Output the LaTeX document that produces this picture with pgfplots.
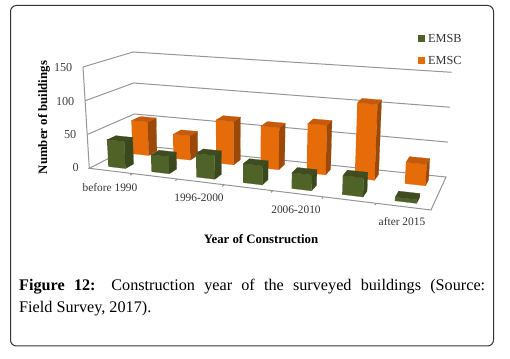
\documentclass[border=0pt]{standalone}
\usepackage{pgfplots}
\pgfplotsset{compat=1.18}
\usepackage{fontspec}
\setmainfont{Liberation Serif}
\definecolor{sbF}{RGB}{79,98,40}
\definecolor{sbS}{RGB}{58,72,29}
\definecolor{sbT}{RGB}{62,76,32}
\definecolor{scF}{RGB}{230,108,10}
\definecolor{scS}{RGB}{155,72,8}
\definecolor{scT}{RGB}{196,90,10}
\definecolor{gridc}{RGB}{150,150,150}
\newcommand\Face[2]{\addplot[fill=#1,draw=#1,line width=0.2bp,no markers,sharp plot,forget plot]
  table[row sep=\\,x expr={PX(\thisrow{u},\thisrow{v},\thisrow{w})},y expr={PY(\thisrow{u},\thisrow{v},\thisrow{w})}]{u v w\\ #2};}
\newcommand\Seg[1]{\addplot[draw=gridc,line width=1bp,no markers,sharp plot,forget plot]
  table[row sep=\\,x expr={PX(\thisrow{u},\thisrow{v},\thisrow{w})},y expr={PY(\thisrow{u},\thisrow{v},\thisrow{w})}]{u v w\\ #1};}
% #1 category position, #2 depth start, #3 value, #4 colour prefix
\newcommand\Bar[4]{%
  \pgfmathsetmacro\ua{#1+0.30}\pgfmathsetmacro\ub{#1+0.70}%
  \pgfmathsetmacro\va{#2}\pgfmathsetmacro\vb{#2+0.19}%
  \edef\tmp{\noexpand\Face{#4F}{\ua\space\va\space 0\\\ub\space\va\space 0\\\ub\space\va\space #3\\\ua\space\va\space #3\\}%
  \noexpand\Face{#4S}{\ub\space\va\space 0\\\ub\space\vb\space 0\\\ub\space\vb\space #3\\\ub\space\va\space #3\\}%
  \noexpand\Face{#4T}{\ua\space\va\space #3\\\ub\space\va\space #3\\\ub\space\vb\space #3\\\ua\space\vb\space #3\\}}%
  \tmp}
\begin{document}
\begin{tikzpicture}
\useasboundingbox (0,0) rectangle (510bp,359bp);
\begin{axis}[
  at={(0,0)},anchor=south west,
  scale only axis,width=510bp,height=359bp,
  xmin=0,xmax=510,ymin=0,ymax=359,y dir=reverse,
  hide axis,clip=false,
  declare function={
    lerp(\a,\b,\t)=\a+(\b-\a)*\t;
    sU(\u)=(\u/7)/((\u/7)+1.15*(1-\u/7));
    PX(\u,\v,\w)=lerp(lerp(lerp(89.3,431,sU(\u)),lerp(135,446,sU(\u)),\v),lerp(lerp(83,438,sU(\u)),lerp(133,451.7,sU(\u)),\v),\w/150);
    PY(\u,\v,\w)=lerp(lerp(lerp(168.3,210,sU(\u)),lerp(145,177,sU(\u)),\v),lerp(lerp(67,96,sU(\u)),lerp(52,72.3,sU(\u)),\v),\w/150);
  },
]
% walls and floor
\Seg{0 0 0\\0 0 150\\}
\Seg{0 0 50\\0 1 50\\7 1 50\\}
\Seg{0 0 100\\0 1 100\\7 1 100\\}
\Seg{0 0 150\\0 1 150\\7 1 150\\}
\Seg{0 1 0\\7 1 0\\7 0 0\\0 0 0\\0 1 0\\}
\Seg{1 0 0\\1 -0.06 0\\}
\Seg{2 0 0\\2 -0.06 0\\}
\Seg{3 0 0\\3 -0.06 0\\}
\Seg{4 0 0\\4 -0.06 0\\}
\Seg{5 0 0\\5 -0.06 0\\}
\Seg{6 0 0\\6 -0.06 0\\}
% EMSC
\Bar{0}{0.68}{52}{sc}
\Bar{1}{0.68}{37}{sc}
\Bar{2}{0.68}{65}{sc}
\Bar{3}{0.68}{62}{sc}
\Bar{4}{0.68}{72}{sc}
\Bar{5}{0.68}{108}{sc}
\Bar{6}{0.68}{30}{sc}
% EMSB
\Bar{0}{0.14}{40}{sb}
\Bar{1}{0.14}{25}{sb}
\Bar{2}{0.14}{34}{sb}
\Bar{3}{0.14}{27}{sb}
\Bar{4}{0.14}{22}{sb}
\Bar{5}{0.14}{26}{sb}
\Bar{6}{0.14}{5}{sb}
% legend
\node[fill=sbF,inner sep=0pt,minimum size=7bp] at (axis cs:421.5,38.5) {};
\node[fill=scF,inner sep=0pt,minimum size=7bp] at (axis cs:421.5,60.5) {};
\node[anchor=west,inner sep=0pt,font=\fontsize{12.3bp}{14bp}\selectfont,text=black!80] at (axis cs:428,38.5) {EMSB};
\node[anchor=west,inner sep=0pt,font=\fontsize{12.3bp}{14bp}\selectfont,text=black!80] at (axis cs:428,60.5) {EMSC};
% tick labels
\begin{scope}[every node/.style={font=\fontsize{12.2bp}{14bp}\selectfont,text=black!75,inner sep=0pt}]
\node[anchor=east] at (axis cs:72.5,67.5) {150};
\node[anchor=east] at (axis cs:74.5,102) {100};
\node[anchor=east] at (axis cs:76.5,135) {50};
\node[anchor=east] at (axis cs:79,168) {0};
\end{scope}
\begin{scope}[every node/.style={font=\fontsize{11.4bp}{14bp}\selectfont,text=black!80,inner sep=0pt}]
\node at (axis cs:110,188) {before 1990};
\node at (axis cs:199,198) {1996-2000};
\node at (axis cs:296,210) {2006-2010};
\node at (axis cs:402,222) {after 2015};
\end{scope}
\node[rotate=90,font=\bfseries\fontsize{12.8bp}{14bp}\selectfont,inner sep=0pt] at (axis cs:44,117.5) {Number of buildings};
\node[font=\bfseries\fontsize{12.8bp}{14bp}\selectfont,inner sep=0pt] at (axis cs:261,239) {Year of Construction};
\node[anchor=north west,inner sep=0pt,text width=466bp,align=justify,font=\fontsize{16.2bp}{21.6bp}\selectfont] at (axis cs:19,279) {\textbf{Figure 12:} Construction year of the surveyed buildings (Source:\linebreak Field Survey, 2017).};
\end{axis}
\draw[draw=black!80,line width=1bp,rounded corners=6bp] (10.5bp,13bp) rectangle (493.5bp,353.5bp);
\end{tikzpicture}
\end{document}
